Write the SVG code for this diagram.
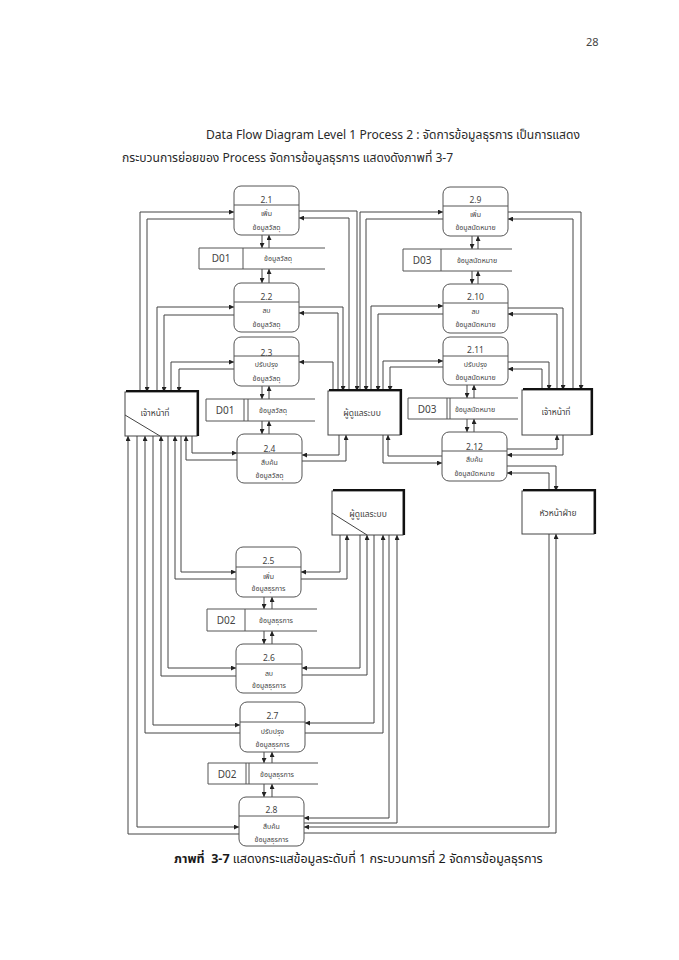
<svg xmlns="http://www.w3.org/2000/svg" width="679" height="960" viewBox="0 0 679 960">
<style>
text{font-family:"Noto Sans Thai","Noto Sans","DejaVu Sans",sans-serif;fill:#333}
.body{font-size:12.1px;fill:#2a2a2a}
.cap{font-size:12.55px;fill:#1a1a1a}
.proc rect{fill:#fff;stroke:#555;stroke-width:1}
.proc line{stroke:#555;stroke-width:1}
.pn{font-size:8.5px;text-anchor:middle;fill:#444}
.pl{font-size:7px;text-anchor:middle;fill:#444}
.ent rect{fill:#fff;stroke:#444;stroke-width:1}
.ent .sh{fill:none;stroke:#111;stroke-width:2.2}
.ent line{stroke:#444;stroke-width:1}
.et{font-size:8.5px;text-anchor:middle;fill:#444}
.st line,.st polyline{stroke:#555;stroke-width:1;fill:none}
.sid{font-size:10px;text-anchor:middle;fill:#444}
.sn{font-size:7px;text-anchor:middle;fill:#444}
#connectors polyline{fill:none;stroke:#444;stroke-width:1;marker-end:url(#ah)}
</style>
<defs>
<marker id="ah" markerWidth="5" markerHeight="5" refX="5" refY="2.5" orient="auto" markerUnits="userSpaceOnUse">
<path d="M0,0 L5,2.5 L0,5 z" fill="#222"/>
</marker>
</defs>
<rect width="679" height="960" fill="#fff"/>
<text x="586" y="46" style="font-size:11px;fill:#444">28</text>
<text class="body" x="206" y="139">Data Flow Diagram Level 1 Process 2 : จัดการข้อมูลธุรการ เป็นการแสดง</text>
<text class="body" x="122" y="162">กระบวนการย่อยของ Process จัดการข้อมูลธุรการ แสดงดังภาพที่ 3-7</text>

<g id="connectors">
<polyline points="140,392 140,212 234,212"/>
<polyline points="234,219 147,219 147,392"/>
<polyline points="157,392 157,307 234,307"/>
<polyline points="234,315 164,315 164,392"/>
<polyline points="171,392 171,362 234,362"/>
<polyline points="234,369 179,369 179,392"/>
<polyline points="299,211 357,211 357,391"/>
<polyline points="349,391 349,218 299,218"/>
<polyline points="299,307 343,307 343,391"/>
<polyline points="338,391 338,313 299,313"/>
<polyline points="333,391 333,362 299,362"/>
<polyline points="360,391 360,212 443,212"/>
<polyline points="443,219 366,219 366,391"/>
<polyline points="371,391 371,306 443,306"/>
<polyline points="443,314 378,314 378,391"/>
<polyline points="383,391 383,361 443,361"/>
<polyline points="443,367 390,367 390,391"/>
<polyline points="508,212 581,212 581,390"/>
<polyline points="573,390 573,219 508,219"/>
<polyline points="508,308 563,308 563,390"/>
<polyline points="557,390 557,314 508,314"/>
<polyline points="508,362 549,362 549,390"/>
<polyline points="542,390 542,369 508,369"/>
<polyline points="192,436 192,453 237,453"/>
<polyline points="237,460 186,460 186,436"/>
<polyline points="339,435 339,455 302,455"/>
<polyline points="302,461 346,461 346,435"/>
<polyline points="383,435 383,463 442,463"/>
<polyline points="442,456 388,456 388,435"/>
<polyline points="507,449 557,449 557,435"/>
<polyline points="563,435 563,455 507,455"/>
<polyline points="507,466 556,466 556,491"/>
<polyline points="549,491 549,473 507,473"/>
<polyline points="181,436 181,572 236,572"/>
<polyline points="236,579 175,579 175,436"/>
<polyline points="168,436 168,668 236,668"/>
<polyline points="236,676 161,676 161,436"/>
<polyline points="153,436 153,725 240,725"/>
<polyline points="240,733 145,733 145,436"/>
<polyline points="137,436 137,827 239,827"/>
<polyline points="239,834 128,834 128,436"/>
<polyline points="340,535 340,572 301,572"/>
<polyline points="301,579 347,579 347,535"/>
<polyline points="360,535 360,668 302,668"/>
<polyline points="302,675 367,675 367,535"/>
<polyline points="374,535 374,723 305,723"/>
<polyline points="305,733 383,733 383,535"/>
<polyline points="389,535 389,818 304,818"/>
<polyline points="304,823 397,823 397,535"/>
<polyline points="549,534 549,827 304,827"/>
<polyline points="304,833 556,833 556,534"/>
<polyline points="262,235 262,248"/>
<polyline points="269,248 269,235"/>
<polyline points="262,269 262,283"/>
<polyline points="269,283 269,269"/>
<polyline points="262,386 262,399"/>
<polyline points="269,399 269,386"/>
<polyline points="262,421 262,434"/>
<polyline points="269,434 269,421"/>
<polyline points="472,236 472,249"/>
<polyline points="478,249 478,236"/>
<polyline points="472,271 472,284"/>
<polyline points="478,284 478,271"/>
<polyline points="467,385 467,398"/>
<polyline points="474,398 474,385"/>
<polyline points="467,419 467,432"/>
<polyline points="474,432 474,419"/>
<polyline points="264,597 264,609"/>
<polyline points="272,609 272,597"/>
<polyline points="264,631 264,644"/>
<polyline points="272,644 272,631"/>
<polyline points="264,752 264,763"/>
<polyline points="272,763 272,752"/>
<polyline points="264,784 264,797"/>
<polyline points="272,797 272,784"/>
</g>

<g id="p2_1" class="proc"><rect x="234" y="186" width="65" height="49" rx="7"/><line x1="234" y1="205" x2="299" y2="205"/><text class="pn" x="266.5" y="203">2.1</text><text class="pl" x="266.5" y="216">เพิ่ม</text><text class="pl" x="266.5" y="230">ข้อมูลวัสดุ</text></g>
<g id="p2_2" class="proc"><rect x="234" y="283" width="65" height="49" rx="7"/><line x1="234" y1="302" x2="299" y2="302"/><text class="pn" x="266.5" y="300">2.2</text><text class="pl" x="266.5" y="313">ลบ</text><text class="pl" x="266.5" y="327">ข้อมูลวัสดุ</text></g>
<g id="p2_3" class="proc"><rect x="234" y="337" width="65" height="49" rx="7"/><line x1="234" y1="356" x2="299" y2="356"/><text class="pn" x="266.5" y="356">2.3</text><text class="pl" x="266.5" y="367">ปรับปรุง</text><text class="pl" x="266.5" y="381">ข้อมูลวัสดุ</text></g>
<g id="p2_4" class="proc"><rect x="237" y="434" width="65" height="49" rx="7"/><line x1="237" y1="453" x2="302" y2="453"/><text class="pn" x="269.5" y="452">2.4</text><text class="pl" x="269.5" y="465">สืบค้น</text><text class="pl" x="269.5" y="478">ข้อมูลวัสดุ</text></g>
<g id="p2_5" class="proc"><rect x="236" y="547" width="65" height="50" rx="7"/><line x1="236" y1="567" x2="301" y2="567"/><text class="pn" x="268.5" y="564">2.5</text><text class="pl" x="268.5" y="579">เพิ่ม</text><text class="pl" x="268.5" y="591">ข้อมูลธุรการ</text></g>
<g id="p2_6" class="proc"><rect x="236" y="644" width="66" height="49" rx="7"/><line x1="236" y1="664" x2="302" y2="664"/><text class="pn" x="269" y="661">2.6</text><text class="pl" x="269" y="676">ลบ</text><text class="pl" x="269" y="688">ข้อมูลธุรการ</text></g>
<g id="p2_7" class="proc"><rect x="240" y="702" width="65" height="50" rx="7"/><line x1="240" y1="722" x2="305" y2="722"/><text class="pn" x="272.5" y="719">2.7</text><text class="pl" x="272.5" y="734">ปรับปรุง</text><text class="pl" x="272.5" y="747">ข้อมูลธุรการ</text></g>
<g id="p2_8" class="proc"><rect x="239" y="797" width="65" height="49" rx="7"/><line x1="239" y1="816" x2="304" y2="816"/><text class="pn" x="271.5" y="813">2.8</text><text class="pl" x="271.5" y="829">สืบค้น</text><text class="pl" x="271.5" y="842">ข้อมูลธุรการ</text></g>
<g id="p2_9" class="proc"><rect x="443" y="187" width="65" height="49" rx="7"/><line x1="443" y1="206" x2="508" y2="206"/><text class="pn" x="475.5" y="203">2.9</text><text class="pl" x="475.5" y="217">เพิ่ม</text><text class="pl" x="475.5" y="230">ข้อมูลนัดหมาย</text></g>
<g id="p2_10" class="proc"><rect x="443" y="284" width="65" height="49" rx="7"/><line x1="443" y1="303" x2="508" y2="303"/><text class="pn" x="475.5" y="300">2.10</text><text class="pl" x="475.5" y="314">ลบ</text><text class="pl" x="475.5" y="327">ข้อมูลนัดหมาย</text></g>
<g id="p2_11" class="proc"><rect x="443" y="337" width="65" height="48" rx="7"/><line x1="443" y1="356" x2="508" y2="356"/><text class="pn" x="475.5" y="353">2.11</text><text class="pl" x="475.5" y="367">ปรับปรุง</text><text class="pl" x="475.5" y="380">ข้อมูลนัดหมาย</text></g>
<g id="p2_12" class="proc"><rect x="442" y="432" width="65" height="49" rx="7"/><line x1="442" y1="451" x2="507" y2="451"/><text class="pn" x="474.5" y="450">2.12</text><text class="pl" x="474.5" y="462">สืบค้น</text><text class="pl" x="474.5" y="476">ข้อมูลนัดหมาย</text></g>

<g id="d01a" class="st"><polyline points="325,248 199,248 199,269 325,269"/><line x1="243" y1="248" x2="243" y2="269"/><text class="sid" x="221" y="262">D01</text><text class="sn" x="278" y="261">ข้อมูลวัสดุ</text></g>
<g id="d01b" class="st"><polyline points="315,399 206,399 206,421 315,421"/><line x1="244" y1="399" x2="244" y2="421"/><line x1="248" y1="399" x2="248" y2="421"/><text class="sid" x="225" y="414">D01</text><text class="sn" x="273" y="413">ข้อมูลวัสดุ</text></g>
<g id="d03a" class="st"><polyline points="512,249 403,249 403,271 512,271"/><line x1="441" y1="249" x2="441" y2="271"/><text class="sid" x="422" y="264">D03</text><text class="sn" x="477" y="263">ข้อมูลนัดหมาย</text></g>
<g id="d03b" class="st"><polyline points="518,398 408,398 408,419 518,419"/><line x1="447" y1="398" x2="447" y2="419"/><line x1="450" y1="398" x2="450" y2="419"/><text class="sid" x="427" y="413">D03</text><text class="sn" x="475" y="412">ข้อมูลนัดหมาย</text></g>
<g id="d02a" class="st"><polyline points="317,609 207,609 207,631 317,631"/><line x1="245" y1="609" x2="245" y2="631"/><text class="sid" x="226" y="624">D02</text><text class="sn" x="276" y="623">ข้อมูลธุรการ</text></g>
<g id="d02b" class="st"><polyline points="318,763 208,763 208,784 318,784"/><line x1="246" y1="763" x2="246" y2="784"/><line x1="249" y1="763" x2="249" y2="784"/><text class="sid" x="227" y="778">D02</text><text class="sn" x="277" y="777">ข้อมูลธุรการ</text></g>

<g id="e_staff1" class="ent"><rect x="125" y="392" width="72" height="44"/><polyline class="sh" points="126,391 198,391 198,436"/><line x1="125" y1="415" x2="160" y2="436"/><text class="et" x="155" y="416">เจ้าหน้าที่</text></g>
<g id="e_admin1" class="ent"><rect x="328" y="391" width="72" height="44"/><polyline class="sh" points="329,390 401,390 401,435"/><text class="et" x="362" y="416">ผู้ดูแลระบบ</text></g>
<g id="e_staff2" class="ent"><rect x="522" y="390" width="69" height="45"/><polyline class="sh" points="523,389 592,389 592,435"/><text class="et" x="556" y="415">เจ้าหน้าที่</text></g>
<g id="e_admin2" class="ent"><rect x="332" y="491" width="71" height="44"/><polyline class="sh" points="333,490 404,490 404,535"/><line x1="332" y1="513" x2="367" y2="535"/><text class="et" x="368" y="517">ผู้ดูแลระบบ</text></g>
<g id="e_head" class="ent"><rect x="522" y="491" width="72" height="43"/><polyline class="sh" points="523,490 595,490 595,534"/><text class="et" x="558" y="516">หัวหน้าฝ่าย</text></g>

<text class="cap" x="174" y="863" xml:space="preserve"><tspan style="font-weight:bold">ภาพที่  3-7</tspan> แสดงกระแสข้อมูลระดับที่ 1 กระบวนการที่ 2 จัดการข้อมูลธุรการ</text>
</svg>
